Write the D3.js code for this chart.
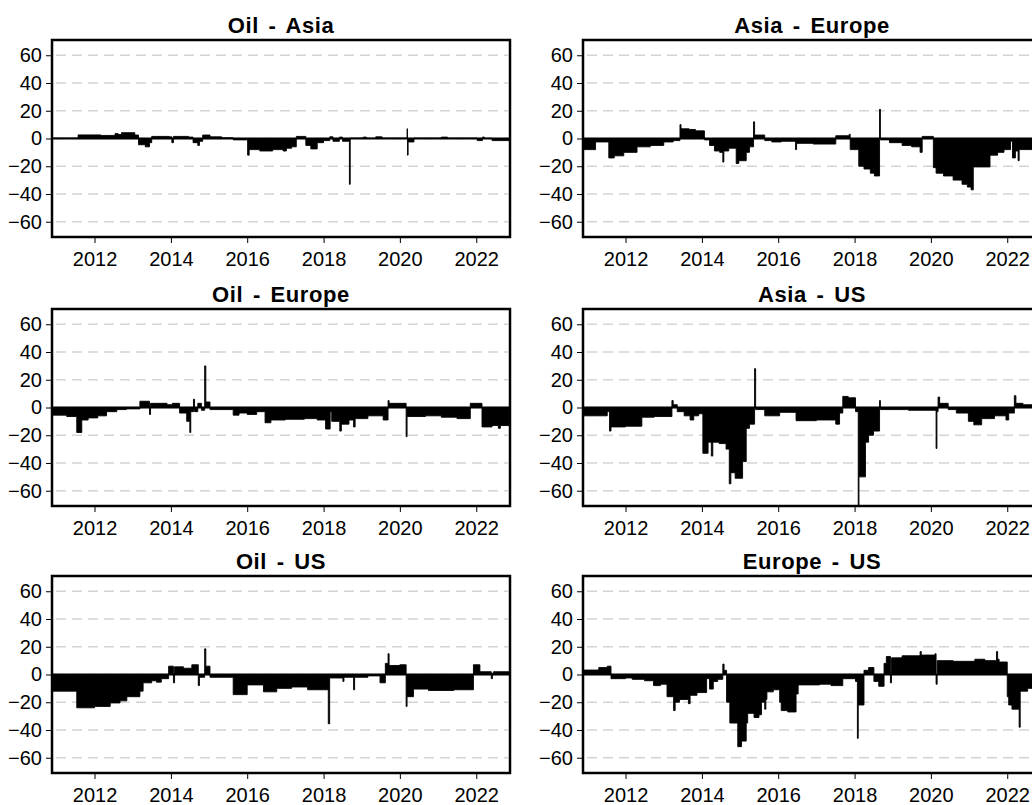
<!DOCTYPE html>
<html>
<head>
<meta charset="UTF-8" />
<title>Spillover panels</title>
<script src="https://d3js.org/d3.v7.min.js"></script>
<style>
  html, body { margin: 0; padding: 0; background: #fff; overflow: hidden; }
  svg { display: block; font-family: "Liberation Sans", Arial, sans-serif; }
  .tick text { font-size: 20px; fill: #000; }
  .title { font-size: 22px; font-weight: bold; text-anchor: middle; letter-spacing: 0.6px; word-spacing: 3px; }
</style>
</head>
<body>
<div id="chart"></div>
<script>
// panel titles, row by row (left, right)
const titles = ["Oil - Asia", "Asia - Europe", "Oil - Europe", "Asia - US", "Oil - US", "Europe - US"];
const yTicks = [-60, -40, -20, 0, 20, 40, 60];
const yDomain = [-71, 71];
const xDomain = ["2010-11-20", "2022-11-20"];

// each entry: [start date, value] held until the next entry
const oilAsia = [
  ["2010-11-20", 0.3], ["2011-07-28", 2.6], ["2012-03-01", 2.2], ["2012-07-15", 3.5],
  ["2012-08-15", 2.8], ["2012-09-15", 4.2], ["2013-01-20", 2.5], ["2013-02-25", -4.5],
  ["2013-05-01", -6], ["2013-06-10", -3], ["2013-07-01", 1.5], ["2013-12-15", 1.2],
  ["2014-01-10", -3], ["2014-01-25", 1.5], ["2014-06-20", 1.0], ["2014-08-01", -3],
  ["2014-09-15", -5], ["2014-10-01", -2], ["2014-11-01", 2.5], ["2015-01-10", 1.2],
  ["2015-05-01", 0.5], ["2015-08-20", -1], ["2016-01-05", -12], ["2016-01-20", -8],
  ["2016-05-01", -9], ["2016-09-01", -8], ["2016-12-10", -9], ["2017-01-10", -7],
  ["2017-03-01", -6], ["2017-04-15", 1.5], ["2017-07-15", -5], ["2017-09-01", -7.5],
  ["2017-11-01", -3], ["2018-01-01", -1.5], ["2018-03-01", 1.2], ["2018-04-01", -2],
  ["2018-06-01", 1], ["2018-07-01", -2], ["2018-09-05", -33], ["2018-09-13", 0.3],
  ["2019-01-15", 1], ["2019-02-15", 0.2], ["2019-05-15", 1.2], ["2019-07-15", 0.3],
  ["2020-03-10", 7], ["2020-03-14", -12], ["2020-03-20", -2.5], ["2020-05-15", 0.3],
  ["2021-02-01", 1], ["2021-04-01", 0.3], ["2022-01-10", -1.5], ["2022-03-01", 1],
  ["2022-03-20", 0.2], ["2022-06-01", -1.5], ["2022-11-20", -1.5]
];

const asiaEurope = [
  ["2010-11-20", -8], ["2011-03-20", -2.5], ["2011-07-25", -14], ["2011-09-15", -12.5],
  ["2011-12-15", -10], ["2012-04-20", -6], ["2012-08-25", -5], ["2013-01-01", -2.5],
  ["2013-04-01", -1.5], ["2013-06-05", 10], ["2013-06-15", 7], ["2013-09-01", 6.5],
  ["2013-11-01", 5.5], ["2014-01-25", -1], ["2014-03-15", -5], ["2014-05-01", -9],
  ["2014-06-20", -10], ["2014-07-20", -17], ["2014-07-30", -9], ["2014-09-15", -7],
  ["2014-11-25", -18], ["2014-12-20", -16], ["2015-03-01", -10], ["2015-04-01", -6],
  ["2015-05-10", 12], ["2015-05-20", 2.5], ["2015-08-25", -1.5], ["2015-11-01", -2.5],
  ["2016-02-01", -2], ["2016-06-15", -8], ["2016-06-25", -3.5], ["2016-12-01", -4],
  ["2017-07-05", 2], ["2017-11-10", 3], ["2017-11-20", -8], ["2018-02-10", -20],
  ["2018-04-01", -22], ["2018-06-01", -25], ["2018-07-10", -27], ["2018-08-28", 21],
  ["2018-09-05", -1], ["2018-12-01", -3], ["2019-04-01", -5], ["2019-07-01", -6],
  ["2019-09-20", -10], ["2019-10-10", 1.5], ["2020-01-25", -21], ["2020-02-20", -25],
  ["2020-05-01", -27], ["2020-08-01", -30], ["2020-10-25", -33], ["2020-12-15", -35],
  ["2021-01-20", -37], ["2021-02-10", -20.5], ["2021-07-20", -12], ["2021-10-01", -10],
  ["2021-12-01", -8], ["2022-02-01", -2], ["2022-02-20", -14], ["2022-03-20", -9],
  ["2022-04-15", -16], ["2022-04-25", -8], ["2022-11-20", -8]
];

const oilEurope = [
  ["2010-11-20", -5.5], ["2011-04-10", -6.5], ["2011-07-15", -18], ["2011-09-01", -9],
  ["2011-11-01", -7.5], ["2012-02-01", -6], ["2012-04-25", -3], ["2012-08-01", -1.5],
  ["2012-11-01", -1], ["2013-03-10", 4.5], ["2013-06-10", -5], ["2013-06-20", 3],
  ["2013-11-25", 2], ["2014-01-15", 3], ["2014-03-25", -4], ["2014-06-01", -10],
  ["2014-07-01", -18], ["2014-07-10", -3], ["2014-08-05", 6], ["2014-08-15", -3],
  ["2014-09-15", 3], ["2014-10-20", -2], ["2014-11-20", 30], ["2014-12-01", 4],
  ["2015-01-10", -1.5], ["2015-08-20", -5.5], ["2015-10-15", -4], ["2016-01-01", -5],
  ["2016-04-01", -3], ["2016-06-20", -11], ["2016-08-15", -9], ["2017-01-01", -8.5],
  ["2017-07-01", -8], ["2017-11-01", -9], ["2018-01-20", -15.5], ["2018-03-05", -3],
  ["2018-03-20", -10], ["2018-06-05", -17], ["2018-06-20", -12], ["2018-09-01", -9],
  ["2018-10-15", -14], ["2018-10-30", -8], ["2019-03-01", -6], ["2019-07-25", -9],
  ["2019-09-10", 5], ["2019-09-20", 3], ["2020-03-01", -21], ["2020-03-10", -6.5],
  ["2020-09-01", -6], ["2021-02-01", -7], ["2021-07-01", -8], ["2021-11-05", 3],
  ["2022-02-25", -14], ["2022-06-01", -13], ["2022-08-01", -15], ["2022-08-20", -13],
  ["2022-11-20", -13]
];

const asiaUS = [
  ["2010-11-20", -6], ["2011-07-10", -3], ["2011-08-01", -17], ["2011-08-15", -14],
  ["2012-01-01", -13.5], ["2012-06-05", -7], ["2012-10-01", -6.5], ["2013-03-20", 5],
  ["2013-04-01", 2], ["2013-05-10", -3], ["2013-07-15", -6], ["2013-09-10", -9],
  ["2013-10-15", -6], ["2013-12-01", -4.5], ["2014-01-10", -33], ["2014-03-01", -25],
  ["2014-04-01", -35], ["2014-04-15", -25], ["2014-06-15", -26], ["2014-08-20", -30],
  ["2014-09-20", -55], ["2014-10-05", -47], ["2014-11-15", -51], ["2015-01-25", -39],
  ["2015-03-01", -15], ["2015-04-01", -12], ["2015-05-20", 28], ["2015-05-30", -1.5],
  ["2015-08-25", -6], ["2016-01-15", -3.5], ["2016-06-20", -9.5], ["2017-01-01", -9],
  ["2017-07-05", -12], ["2017-08-10", -4], ["2017-09-10", 8], ["2017-11-01", 7],
  ["2018-01-10", -3], ["2018-02-05", -71], ["2018-02-12", -50], ["2018-04-15", -25],
  ["2018-05-15", -20], ["2018-07-01", -17], ["2018-08-28", 5], ["2018-09-05", -1.5],
  ["2019-06-01", -2], ["2020-02-20", -29.5], ["2020-02-28", -3], ["2020-03-10", 7.5],
  ["2020-03-25", 3], ["2020-06-15", -1.5], ["2020-09-01", -4], ["2020-12-25", -10],
  ["2021-02-15", -12.5], ["2021-05-01", -8], ["2021-09-01", -6], ["2021-12-20", -9],
  ["2022-01-15", -4], ["2022-03-10", 8.5], ["2022-03-25", 3], ["2022-06-01", 2],
  ["2022-11-20", 2]
];

const oilUS = [
  ["2010-11-20", -12], ["2011-07-15", -24], ["2012-01-01", -23], ["2012-05-30", -20.5],
  ["2012-09-01", -19], ["2012-11-05", -16], ["2013-03-10", -12], ["2013-04-10", -6],
  ["2013-07-01", -4.5], ["2013-08-15", -5.5], ["2013-10-01", -3], ["2013-12-10", 6],
  ["2014-01-25", -6], ["2014-02-05", 5.5], ["2014-05-01", 4.5], ["2014-07-20", 7],
  ["2014-09-20", -8], ["2014-10-01", -2], ["2014-11-20", 18.5], ["2014-12-01", 6],
  ["2015-01-10", -2], ["2015-08-20", -14.5], ["2016-01-01", -7.5], ["2016-06-05", -12.5],
  ["2016-10-10", -10], ["2017-03-01", -9], ["2017-08-01", -11], ["2018-02-15", -35.5],
  ["2018-02-28", -2.5], ["2018-07-05", -5], ["2018-07-15", -2], ["2018-10-15", -11],
  ["2018-10-25", -2], ["2019-03-01", -1], ["2019-06-25", -6], ["2019-08-15", 8],
  ["2019-09-10", 15], ["2019-09-20", 6.5], ["2020-01-01", 7], ["2020-03-01", -23],
  ["2020-03-10", -16], ["2020-05-10", -10.5], ["2020-10-01", -11.5], ["2021-06-01", -11],
  ["2021-12-05", 7], ["2022-02-05", 2], ["2022-05-25", -3], ["2022-06-05", 1],
  ["2022-06-15", 2], ["2022-11-20", 2]
];

const europeUS = [
  ["2010-11-20", 3.2], ["2011-04-20", 5], ["2011-07-10", 6], ["2011-08-15", -3],
  ["2012-01-01", -2.5], ["2012-03-05", -3.5], ["2012-07-01", -4.5], ["2012-09-25", -8],
  ["2012-12-01", -7], ["2013-02-01", -16], ["2013-04-05", -26], ["2013-04-20", -20],
  ["2013-06-01", -18], ["2013-08-25", -21], ["2013-09-10", -15], ["2013-11-15", -13],
  ["2014-02-15", -3], ["2014-03-15", -10.5], ["2014-04-20", -5], ["2014-06-01", -3.5],
  ["2014-07-20", 7.5], ["2014-08-01", 3], ["2014-08-25", -20], ["2014-09-25", -35],
  ["2014-12-10", -52], ["2015-01-15", -48], ["2015-03-01", -35], ["2015-03-15", -28],
  ["2015-05-15", -31], ["2015-07-01", -29], ["2015-07-25", -20], ["2015-08-25", -25],
  ["2015-09-05", -18], ["2015-09-15", -12.5], ["2015-11-15", -11], ["2016-01-15", -20],
  ["2016-01-30", -26], ["2016-04-01", -27], ["2016-06-20", -14], ["2016-07-10", -7.5],
  ["2017-02-01", -7], ["2017-05-20", -8], ["2017-09-10", -3], ["2018-01-10", -5],
  ["2018-01-28", -46], ["2018-02-05", -22], ["2018-04-01", 3], ["2018-05-15", 5],
  ["2018-07-05", -5], ["2018-08-20", -8.5], ["2018-10-10", 8], ["2018-11-01", 13],
  ["2018-12-10", -6], ["2018-12-20", 12], ["2019-04-01", 13.5], ["2019-09-20", 16.5],
  ["2019-10-01", 14], ["2020-02-10", 15], ["2020-02-20", -7], ["2020-03-01", 10],
  ["2020-08-01", 9.5], ["2021-02-25", 11], ["2021-06-01", 10], ["2021-09-20", 16.5],
  ["2021-10-01", 11], ["2021-10-15", 9], ["2022-01-01", -16], ["2022-01-15", -22],
  ["2022-02-15", -25], ["2022-04-25", -38], ["2022-05-05", -12], ["2022-07-15", -10],
  ["2022-11-20", -10]
];

const series = [oilAsia, asiaEurope, oilEurope, asiaUS, oilUS, europeUS];

// layout
const colX = [52, 583];
const rowY = [40, 309, 576];
const pw = 458, ph = 197;

const parse = d3.timeParse("%Y-%m-%d");

const svg = d3.select("#chart").append("svg")
  .attr("width", 1060)
  .attr("height", 805);

const x = d3.scaleTime().domain(xDomain.map(parse)).range([0, pw]);
const y = d3.scaleLinear().domain(yDomain).range([ph, 0]);

const area = d3.area()
  .curve(d3.curveStepAfter)
  .x(d => x(parse(d[0])))
  .y0(y(0))
  .y1(d => y(d[1]));

series.forEach((data, i) => {
  const g = svg.append("g")
    .attr("transform", `translate(${colX[i % 2]},${rowY[Math.floor(i / 2)]})`);

  // dashed grid
  g.selectAll(".grid")
    .data(yTicks)
    .enter()
    .append("line")
    .attr("x1", 4)
    .attr("x2", pw - 2)
    .attr("y1", d => y(d))
    .attr("y2", d => y(d))
    .attr("stroke", "#d4d4d4")
    .attr("stroke-width", 1.6)
    .attr("stroke-dasharray", "10,6");

  g.append("path")
    .datum(data)
    .attr("d", area)
    .attr("fill", "#000")
    .attr("stroke", "#000")
    .attr("stroke-width", 0.9);

  // zero line
  g.append("line")
    .attr("x1", 0)
    .attr("x2", pw)
    .attr("y1", y(0))
    .attr("y2", y(0))
    .attr("stroke", "#000")
    .attr("stroke-width", 2);

  const ya = g.append("g")
    .call(d3.axisLeft(y).tickValues(yTicks).tickSize(6).tickPadding(4));
  ya.select(".domain").remove();

  const xa = g.append("g")
    .attr("transform", `translate(0,${ph})`)
    .call(d3.axisBottom(x).ticks(d3.timeYear.every(2)).tickFormat(d3.timeFormat("%Y")).tickSize(6).tickPadding(9));
  xa.select(".domain").remove();

  svg.selectAll(".tick text").attr("font-family", null).attr("font-size", null);

  g.append("rect")
    .attr("width", pw)
    .attr("height", ph)
    .attr("fill", "none")
    .attr("stroke", "#000")
    .attr("stroke-width", 2.5);

  g.append("text")
    .attr("class", "title")
    .attr("x", pw / 2)
    .attr("y", -7)
    .text(titles[i]);
});
</script>
</body>
</html>
